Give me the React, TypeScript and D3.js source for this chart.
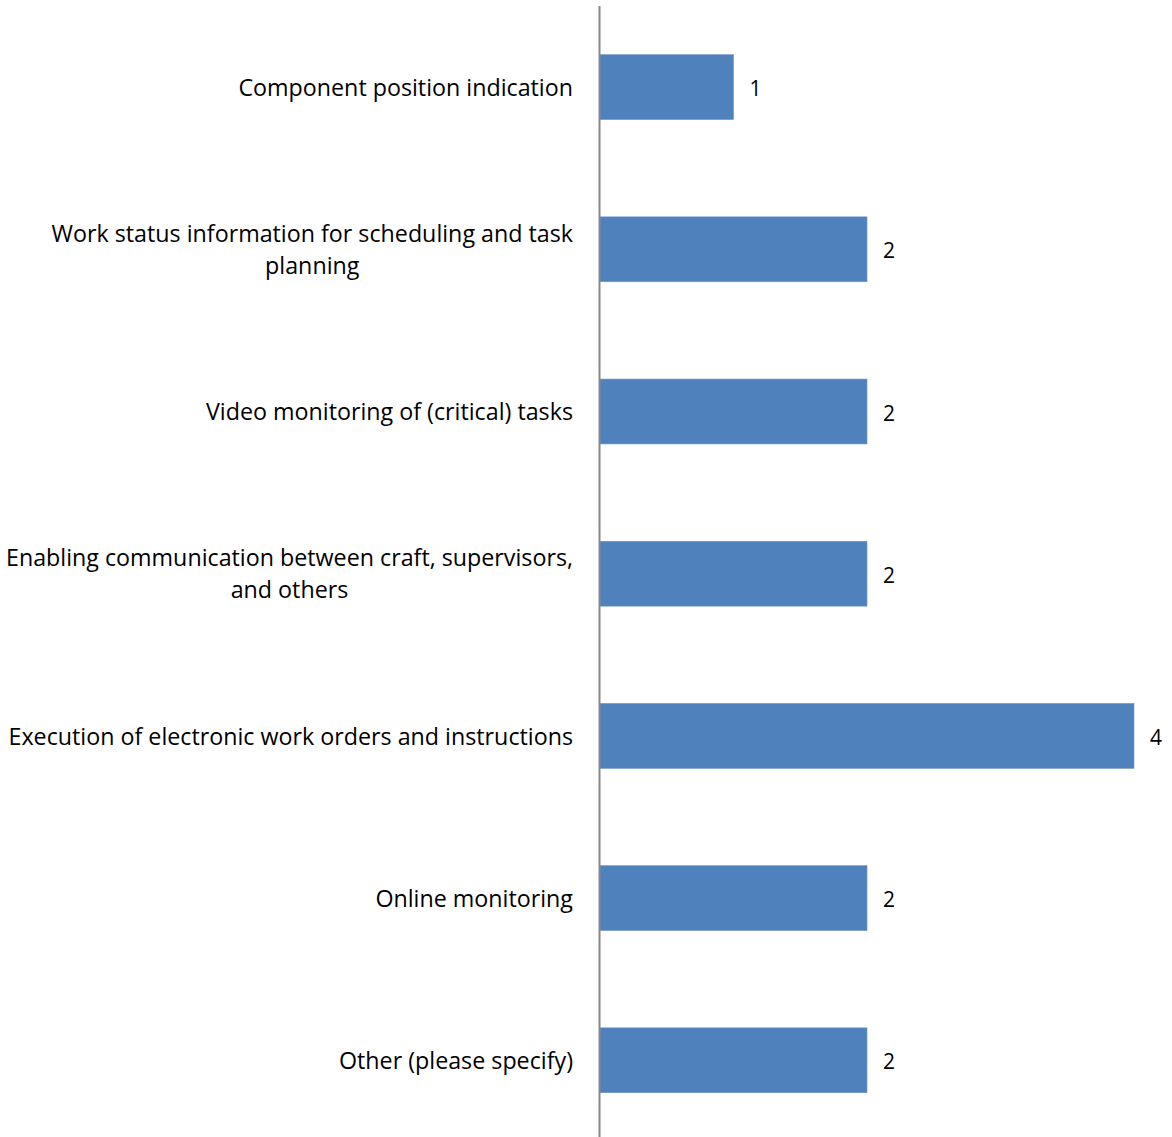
import React, { useEffect, useRef } from "react";
import * as d3 from "d3";

const categories: string[] = [
  "Component position indication",
  "Work status information for scheduling and task|planning",
  "Video monitoring of (critical) tasks",
  "Enabling communication between craft, supervisors,|and others",
  "Execution of electronic work orders and instructions",
  "Online monitoring",
  "Other (please specify)",
];
const values: number[] = [1, 2, 2, 2, 4, 2, 2];
const xDomainMax = 4;

const W = 1172;
const H = 1137;
const FONT = "'Open Sans', sans-serif";
const FS = 23.25;

export default function App() {
  const ref = useRef<SVGSVGElement | null>(null);
  useEffect(() => {
    const svg = d3.select(ref.current);
    svg.selectAll("*").remove();
    const axisX = 599.5;
    const x = d3.scaleLinear().domain([0, xDomainMax]).range([600, 1134]);
    const y = d3
      .scaleBand<string>()
      .domain(categories)
      .range([6, 1141.4])
      .paddingInner(0.6)
      .paddingOuter(0.3);

    svg
      .append("g")
      .selectAll("rect")
      .data(categories)
      .join("rect")
      .attr("x", x(0))
      .attr("y", (d) => y(d)!)
      .attr("width", (d, i) => x(values[i]) - x(0))
      .attr("height", y.bandwidth())
      .attr("fill", "#4F81BD")
      .attr("stroke", "#6C95C8")
      .attr("stroke-width", 0.6);

    svg
      .append("line")
      .attr("x1", axisX)
      .attr("x2", axisX)
      .attr("y1", 6)
      .attr("y2", 1137)
      .attr("stroke", "#888888")
      .attr("stroke-width", 2);

    svg
      .append("g")
      .selectAll("text")
      .data(categories)
      .join("text")
      .attr("x", (d, i) => x(values[i]) + 16)
      .attr("y", (d) => y(d)! + y.bandwidth() / 2)
      .attr("dy", "0.43em")
      .attr("font-family", FONT)
      .attr("font-size", 21)
      .attr("fill", "#000")
      .text((d, i) => String(values[i]));

    const labelRight = 573;
    const lineH = 32;
    categories.forEach((c) => {
      const lines = c.split("|");
      const g = svg.append("g");
      const cy = y(c)! + y.bandwidth() / 2;
      const texts = lines.map((ln, j) =>
        g
          .append("text")
          .attr("y", cy + (j - (lines.length - 1) / 2) * lineH)
          .attr("dy", "0.37em")
          .attr("font-family", FONT)
          .attr("font-size", FS)
          .attr("fill", "#000")
          .attr("text-anchor", "middle")
          .text(ln)
      );
      const widths = texts.map((t) => (t.node() as SVGTextElement).getComputedTextLength());
      const maxW = d3.max(widths) || 0;
      texts.forEach((t) => t.attr("x", labelRight - maxW / 2));
    });
  }, []);
  return (
    <svg ref={ref} width={W} height={H} style={{ display: "block", position: "absolute", left: 0, top: 0, background: "#fff" }} />
  );
}
